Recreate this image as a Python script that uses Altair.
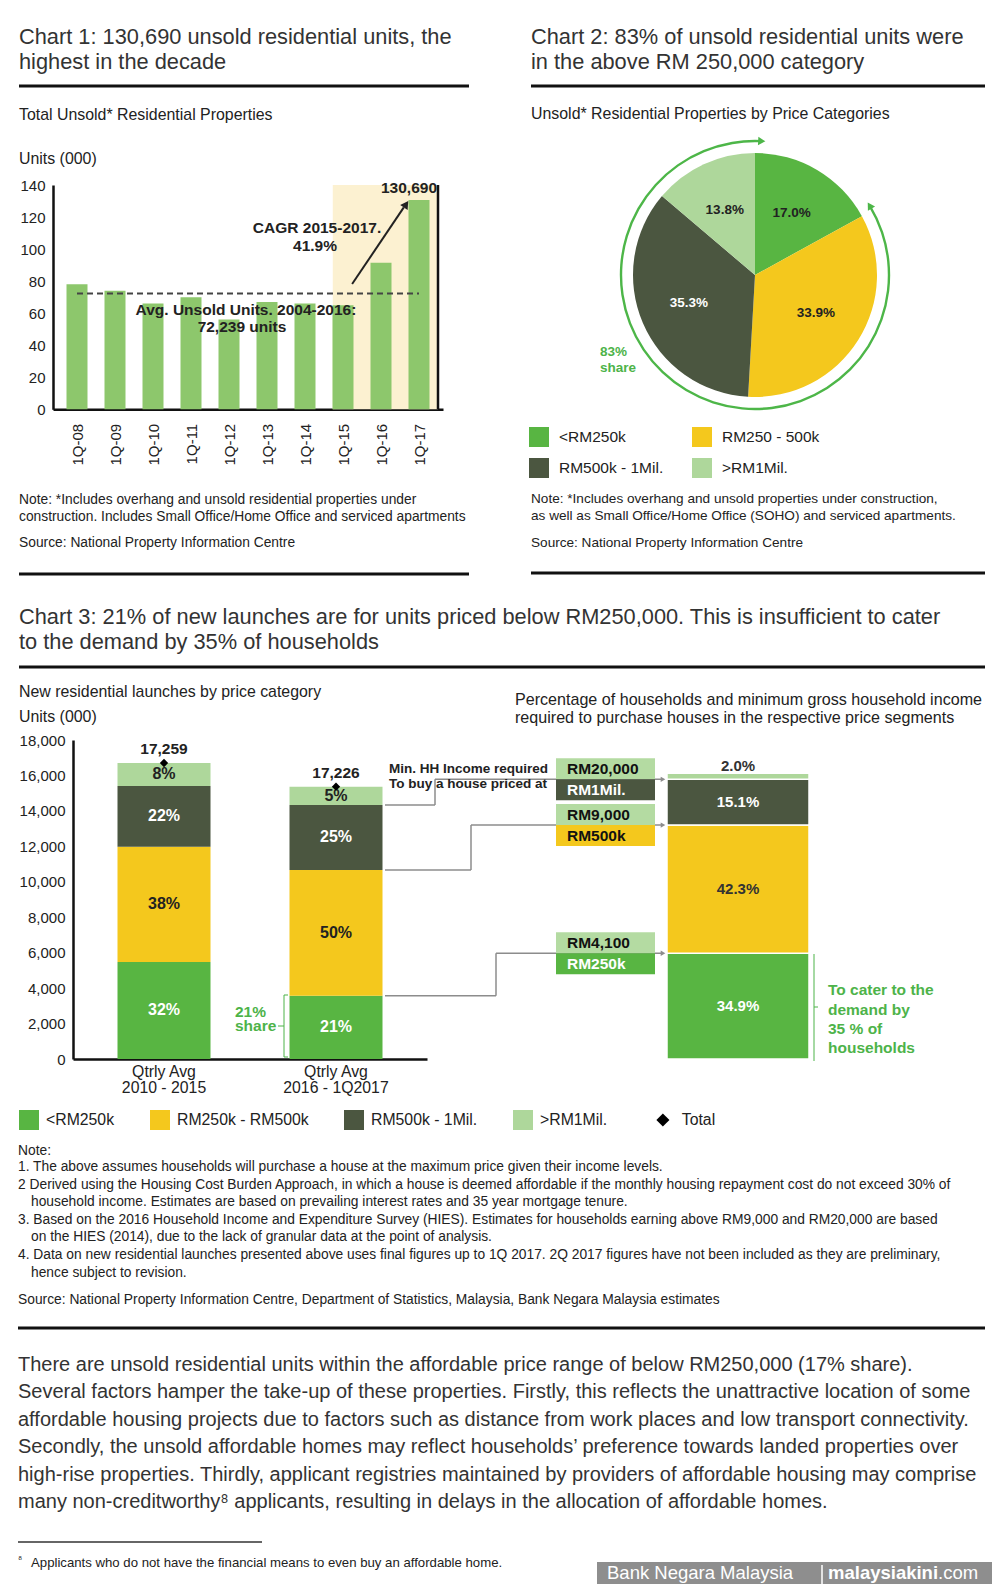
import math
import altair as alt
import pandas as pd

W, H = 984, 1576
M = 8


def P(v):
    return v - M


FONT = "Liberation Sans, Arial, Helvetica, sans-serif"
TXT = "#222222"
TITLE = "#333333"
GREEN = "#58b542"
YELLOW = "#f4c81d"
DARK = "#4b5640"
LIGHT = "#aed79b"
C1_BAR = "#8dc76c"
SHADE = "#fcf1d1"
RING = "#4db648"
GTXT = "#4db349"
GREY = "#8c8c8c"
BOXL = "#b4dba2"

# ---------------- data ----------------
c1_quarters = ["1Q-08", "1Q-09", "1Q-10", "1Q-11", "1Q-12", "1Q-13", "1Q-14", "1Q-15", "1Q-16", "1Q-17"]
c1_units = [78, 74, 66, 70, 56, 67, 66, 65, 91.5, 130.69]
c1_avg = 72.239
c1_shade_from = "1Q-15"
c1_yticks = [0, 20, 40, 60, 80, 100, 120, 140]

c2_cats = ["<RM250k", "RM250 - 500k", "RM500k - 1Mil.", ">RM1Mil."]
c2_share = [17.0, 33.9, 35.3, 13.8]

c3_cats = ["<RM250k", "RM250k - RM500k", "RM500k - 1Mil.", ">RM1Mil."]
c3_periods = ["Qtrly Avg\n2010 - 2015", "Qtrly Avg\n2016 - 1Q2017"]
c3_units_p1 = [5474, 6506, 3426, 1298]
c3_units_p2 = [3574, 7092, 3668, 1033]
c3_pct_p1 = ["32%", "38%", "22%", "8%"]
c3_pct_p2 = ["21%", "50%", "25%", "5%"]
c3_totals = [17259, 17226]
c3_yticks = list(range(0, 18001, 2000))

hh_share = [34.9, 42.3, 15.1, 2.0]
hh_income = ["RM4,100", "RM9,000", "RM20,000"]
hh_price = ["RM250k", "RM500k", "RM1Mil."]

ONE = pd.DataFrame({"z": [0]})
layers = []


def text(s, x, y, size=13.5, weight="normal", color=TXT, align="left", baseline="middle"):
    layers.append(
        alt.Chart(ONE)
        .mark_text(text=s, fontSize=size, fontWeight=weight, color=color, align=align,
                   baseline=baseline, font=FONT)
        .encode(x=alt.value(P(x)), y=alt.value(P(y)))
    )


def hrule(x1, x2, y, color="#111111", width=3):
    layers.append(
        alt.Chart(ONE).mark_rule(color=color, strokeWidth=width)
        .encode(x=alt.value(P(x1)), x2=alt.value(P(x2)), y=alt.value(P(y)))
    )


def vrule(x, y1, y2, color="#111111", width=1.5):
    layers.append(
        alt.Chart(ONE).mark_rule(color=color, strokeWidth=width)
        .encode(x=alt.value(P(x)), y=alt.value(P(y1)), y2=alt.value(P(y2)))
    )


def box(x1, x2, y1, y2, color):
    layers.append(
        alt.Chart(ONE).mark_rect(color=color)
        .encode(x=alt.value(P(x1)), x2=alt.value(P(x2)), y=alt.value(P(y1)), y2=alt.value(P(y2)))
    )


# ---------------- chart 1 ----------------
C1_LEFT, C1_RIGHT, C1_BOT, C1_TOP = 53, 443, 409.3, 185
STEP1 = (C1_RIGHT - C1_LEFT) / len(c1_quarters)
BAR1_PX = 21
n1 = len(c1_quarters)
x1s = alt.Scale(domain=[-0.5, n1 - 0.5], range=[P(C1_LEFT), P(C1_RIGHT)], nice=False, zero=False)
y1s = alt.Scale(domain=[0, 140], range=[P(C1_BOT), P(C1_TOP)], nice=False)
label_expr = "[" + ",".join(f"'{q}'" for q in c1_quarters) + "][datum.value]"
x1ax = alt.Axis(orient="bottom", offset=P(C1_BOT) - H, values=list(range(n1)), labelExpr=label_expr,
                labelAngle=270, ticks=False, grid=False, domainColor="#111111", domainWidth=2.5,
                labelFontSize=15, labelColor=TXT, labelFont=FONT, labelPadding=14, title=None)
y1ax = alt.Axis(orient="left", offset=-P(C1_LEFT), values=c1_yticks, ticks=False, grid=False,
                domainColor="#111111", domainWidth=2.5, labelFontSize=15, labelColor=TXT,
                labelFont=FONT, labelPadding=8, title=None)
X1 = dict(scale=x1s, axis=x1ax)
Y1 = dict(scale=y1s, axis=y1ax)

df1 = pd.DataFrame({"i": range(n1), "q": c1_quarters, "v": c1_units})
shade_start = c1_quarters.index(c1_shade_from) - BAR1_PX / STEP1 / 2
g1 = alt.layer(
    alt.Chart(ONE).mark_rect(color=SHADE).encode(
        x=alt.XDatum(shade_start, type="quantitative", **X1), x2=alt.X2Datum(n1 - 0.5),
        y=alt.YDatum(0, type="quantitative", **Y1), y2=alt.Y2Datum(140)),
    alt.Chart(df1).mark_bar(width=BAR1_PX, color=C1_BAR).encode(
        x=alt.X("i:Q", **X1), y=alt.Y("v:Q", **Y1)),
    alt.Chart(ONE).mark_rule(color="#111111", strokeWidth=2.5).encode(
        x=alt.XDatum(n1 - 0.5, type="quantitative", **X1),
        y=alt.YDatum(0, type="quantitative", **Y1), y2=alt.Y2Datum(140)),
    alt.Chart(ONE).mark_rule(color="#444444", strokeWidth=2, strokeDash=[6, 4]).encode(
        x=alt.XDatum(0, type="quantitative", **X1), x2=alt.X2Datum(n1 - 1),
        y=alt.YDatum(c1_avg, type="quantitative", **Y1)),
    alt.Chart(ONE).mark_rule(color="#222222", strokeWidth=2).encode(
        x=alt.XDatum(7.24, type="quantitative", **X1), x2=alt.X2Datum(8.6),
        y=alt.YDatum(78.2, type="quantitative", **Y1), y2=alt.Y2Datum(126)),
    alt.Chart(ONE).mark_point(shape="triangle-up", filled=True, size=80, angle=34, color="#222222",
                              opacity=1).encode(
        x=alt.XDatum(8.66, type="quantitative", **X1),
        y=alt.YDatum(128, type="quantitative", **Y1)),
)
layers.append(g1)

# ---------------- chart 2 (pie) ----------------
PCX, PCY, PR = 755, 275, 122
df2 = pd.DataFrame({"cat": c2_cats, "share": c2_share, "o": range(len(c2_cats)),
                    "lab": [f"{v:.1f}%" for v in c2_share]})
color2 = alt.Scale(domain=c2_cats, range=[GREEN, YELLOW, DARK, LIGHT])
leg2 = alt.Legend(orient="none", legendX=P(529), legendY=P(427), direction="horizontal", columns=2,
                  columnPadding=28, rowPadding=11, symbolType="square", symbolSize=400,
                  symbolStrokeWidth=0, labelFontSize=15.5, labelFont=FONT, labelColor=TXT,
                  labelOffset=10, title=None, padding=0)
g2 = alt.layer(
    alt.Chart(df2).mark_arc(radius=PR).encode(
        theta=alt.Theta("share:Q", stack=True),
        color=alt.Color("cat:N", scale=color2, legend=leg2),
        order=alt.Order("o:Q"),
        x=alt.value(P(PCX)), y=alt.value(P(PCY))),
    alt.Chart(df2).mark_text(radius=72, fontSize=13.5, fontWeight="bold", font=FONT).encode(
        theta=alt.Theta("share:Q", stack=True),
        order=alt.Order("o:Q"),
        text=alt.Text("lab:N"),
        color=alt.when(alt.datum.cat == c2_cats[2]).then(alt.value("white")).otherwise(alt.value(TXT)),
        x=alt.value(P(PCX)), y=alt.value(P(PCY))),
)
layers.append(g2)

# ring with arrows (83% share)
RR = 134
t_start, t_end = 58.8, 362.9
layers.append(
    alt.Chart(ONE).mark_arc(color=RING).encode(
        theta=alt.value(math.radians(t_start)), theta2=alt.value(math.radians(t_end)),
        radius=alt.value(RR + 1.2), radius2=alt.value(RR - 1.2),
        x=alt.value(P(PCX)), y=alt.value(P(PCY)))
)
for t, ang in [(t_end, t_end - 360 + 90), (t_start, t_start - 90 + 360)]:
    ax = PCX + RR * math.sin(math.radians(t))
    ay = PCY - RR * math.cos(math.radians(t))
    layers.append(
        alt.Chart(ONE).mark_point(shape="triangle-up", filled=True, size=70, angle=ang, color=RING,
                                  opacity=1).encode(x=alt.value(P(ax)), y=alt.value(P(ay)))
    )

# ---------------- chart 3 ----------------
C3_LEFT, C3_RIGHT, C3_BOT, C3_TOP = 73, 427, 1059, 740
Y3_MAX = 18000
U_PER_PX = Y3_MAX / (C3_BOT - C3_TOP)
BAR3_PX = 93
HH_SCALE = 0.95  # right-hand bar drawn at 95% of the axis height for 100%
PCT_U = Y3_MAX * HH_SCALE / 100
BOX_U = 21 * U_PER_PX

x3s = alt.Scale(domain=[0.5, 2.5], range=[P(C3_LEFT), P(C3_RIGHT)], nice=False, zero=False)
y3s = alt.Scale(domain=[0, Y3_MAX], range=[P(C3_BOT), P(C3_TOP)], nice=False)
x3ax = alt.Axis(orient="bottom", offset=P(C3_BOT) - H, labels=False, ticks=False, grid=False,
                domainColor="#111111", domainWidth=2.5, title=None)
y3ax = alt.Axis(orient="left", offset=-P(C3_LEFT), values=c3_yticks,
                labelExpr="format(datum.value, ',')", ticks=False, grid=False,
                domainColor="#111111", domainWidth=2.5, labelFontSize=15, labelColor=TXT,
                labelFont=FONT, labelPadding=8, title=None)
X3 = dict(scale=x3s, axis=x3ax)
Y3 = dict(scale=y3s, axis=y3ax)
color3 = alt.Scale(domain=c3_cats, range=[GREEN, YELLOW, DARK, LIGHT])
leg3 = alt.Legend(orient="none", legendX=P(19), legendY=P(1110), direction="horizontal", columns=4,
                  columnPadding=35, symbolType="square", symbolSize=400, symbolStrokeWidth=0,
                  labelFontSize=15.8, labelFont=FONT, labelColor=TXT, labelOffset=7, title=None,
                  padding=0)
C3 = dict(scale=color3, legend=leg3)

rows = []
for pos, units, pcts in [(1, c3_units_p1, c3_pct_p1), (2, c3_units_p2, c3_pct_p2)]:
    acc = 0
    for cat, u, p in zip(c3_cats, units, pcts):
        rows.append({"pos": pos, "cat": cat, "y0": acc, "y1": acc + u, "mid": acc + u / 2, "lab": p})
        acc += u
df3 = pd.DataFrame(rows)
df3t = pd.DataFrame({"pos": [1, 2], "tot": [sum(c3_units_p1), sum(c3_units_p2)],
                     "lab": [f"{v:,}" for v in c3_totals], "k": ["Total", "Total"]})
df3x = pd.DataFrame({"pos": [1, 2], "lab": c3_periods})

hrows = []
acc = 0
for cat, v in zip(c3_cats, hh_share):
    hrows.append({"cat": cat, "v": v, "y0": acc * PCT_U, "y1": (acc + v) * PCT_U,
                  "mid": (acc + v / 2) * PCT_U, "lab": f"{v:.1f}%"})
    acc += v
dfh = pd.DataFrame(hrows)

white_cats = (alt.datum.cat == c3_cats[0]) | (alt.datum.cat == c3_cats[2])
leg_shape = alt.Legend(orient="none", legendX=P(655), legendY=P(1112), symbolSize=170,
                       symbolFillColor="black", symbolStrokeColor="black", labelFontSize=15.8,
                       labelFont=FONT, labelColor=TXT, labelOffset=11, title=None, padding=0)

g3_layers = []
# connectors
bar2_cum = [sum(c3_units_p2[:k + 1]) for k in range(3)]
hh_cum = [sum(hh_share[:k + 1]) * PCT_U for k in range(3)]
conn_x = [496, 471, 435]
BAR2_RIGHT = C3_LEFT + (2 - 0.5) * (C3_RIGHT - C3_LEFT) / 2 + BAR3_PX / 2
RB_L, RB_R = 667, 809
for yl, yr, cx in zip(bar2_cum, hh_cum, conn_x):
    dfc = pd.DataFrame({"yl": [yl], "yr": [yr]})
    g3_layers += [
        alt.Chart(dfc).mark_rule(color=GREY, strokeWidth=1.5).encode(
            x=alt.value(P(BAR2_RIGHT)), x2=alt.value(P(cx)), y=alt.Y("yl:Q", **Y3)),
        alt.Chart(dfc).mark_rule(color=GREY, strokeWidth=1.5).encode(
            x=alt.value(P(cx)), y=alt.Y("yl:Q", **Y3), y2=alt.Y2("yr:Q")),
        alt.Chart(dfc).mark_rule(color=GREY, strokeWidth=1.5).encode(
            x=alt.value(P(cx)), x2=alt.value(P(RB_L - 5)), y=alt.Y("yr:Q", **Y3)),
        alt.Chart(dfc).mark_point(shape="triangle-right", filled=True, size=28, color=GREY,
                                  opacity=1).encode(x=alt.value(P(RB_L - 4)), y=alt.Y("yr:Q", **Y3)),
    ]

g3_layers += [
    alt.Chart(df3).mark_bar(width=BAR3_PX).encode(
        x=alt.X("pos:Q", **X3), y=alt.Y("y0:Q", **Y3), y2=alt.Y2("y1:Q"),
        color=alt.Color("cat:N", **C3)),
    alt.Chart(df3).mark_text(fontSize=16, fontWeight="bold", font=FONT).encode(
        x=alt.X("pos:Q", **X3), y=alt.Y("mid:Q", **Y3), text="lab:N",
        color=alt.when(white_cats).then(alt.value("white")).otherwise(alt.value(TXT))),
    alt.Chart(df3t).mark_point(filled=True, size=70, color="black", opacity=1).encode(
        x=alt.X("pos:Q", **X3), y=alt.Y("tot:Q", **Y3),
        shape=alt.Shape("k:N", scale=alt.Scale(domain=["Total"], range=["diamond"]), legend=leg_shape)),
    alt.Chart(df3t).mark_text(fontSize=15.5, fontWeight="bold", font=FONT, dy=-14, color=TXT).encode(
        x=alt.X("pos:Q", **X3), y=alt.Y("tot:Q", **Y3), text="lab:N"),
    alt.Chart(df3x).mark_text(fontSize=15.8, font=FONT, lineBreak="\n", baseline="top", lineHeight=16,
                              color=TXT).encode(
        x=alt.X("pos:Q", **X3), y=alt.value(P(1065)), text="lab:N"),
    # right-hand bar: share of households
    alt.Chart(dfh).mark_rect(stroke="white", strokeWidth=1.5).encode(
        x=alt.value(P(RB_L)), x2=alt.value(P(RB_R)), y=alt.Y("y0:Q", **Y3), y2=alt.Y2("y1:Q"),
        color=alt.Color("cat:N", **C3)),
    alt.Chart(dfh).transform_filter(alt.datum.v >= 5).mark_text(fontSize=15, fontWeight="bold",
                                                                 font=FONT).encode(
        x=alt.value(P((RB_L + RB_R) / 2)), y=alt.Y("mid:Q", **Y3), text="lab:N",
        color=alt.when(white_cats).then(alt.value("white")).otherwise(alt.value("#333333"))),
    alt.Chart(dfh).transform_filter(alt.datum.v < 5).mark_text(fontSize=15, fontWeight="bold",
                                                                font=FONT, baseline="bottom", dy=1,
                                                                color="#333333").encode(
        x=alt.value(P((RB_L + RB_R) / 2)), y=alt.Y("y1:Q", **Y3), text="lab:N"),
]
# income / price boxes
BX_L, BX_R = 556, 655
for k in range(3):
    b = hh_cum[k]
    dfb = pd.DataFrame({"a": [b], "top": [b + BOX_U], "bot": [b - BOX_U], "mt": [b + BOX_U / 2],
                        "mb": [b - BOX_U / 2], "inc": [hh_income[k]], "pr": [hh_price[k]]})
    price_col = [GREEN, YELLOW, DARK][k]
    price_txt = "#111111" if k == 1 else "white"
    g3_layers += [
        alt.Chart(dfb).mark_rect(color=BOXL).encode(
            x=alt.value(P(BX_L)), x2=alt.value(P(BX_R)), y=alt.Y("a:Q", **Y3), y2=alt.Y2("top:Q")),
        alt.Chart(dfb).mark_rect(color=price_col).encode(
            x=alt.value(P(BX_L)), x2=alt.value(P(BX_R)), y=alt.Y("bot:Q", **Y3), y2=alt.Y2("a:Q")),
        alt.Chart(dfb).mark_text(fontSize=15.5, fontWeight="bold", font=FONT, align="left",
                                 color="#111111").encode(
            x=alt.value(P(567)), y=alt.Y("mt:Q", **Y3), text="inc:N"),
        alt.Chart(dfb).mark_text(fontSize=15.5, fontWeight="bold", font=FONT, align="left",
                                 color=price_txt).encode(
            x=alt.value(P(567)), y=alt.Y("mb:Q", **Y3), text="pr:N"),
    ]
layers.append(alt.layer(*g3_layers))

# ---------------- texts & decorations ----------------
TS = 21.8
text("Chart 1: 130,690 unsold residential units, the", 19, 37, TS, color=TITLE)
text("highest in the decade", 19, 62, TS, color=TITLE)
text("Chart 2: 83% of unsold residential units were", 531, 37, TS, color=TITLE)
text("in the above RM 250,000 category", 531, 62, TS, color=TITLE)
hrule(19, 469, 86)
hrule(531, 985, 86)
text("Total Unsold* Residential Properties", 19, 115, 15.9)
text("Unsold* Residential Properties by Price Categories", 531, 114, 15.9)
text("Units (000)", 19, 159, 15.9)

# chart 1 annotations
text("130,690", 437, 188, 15.5, "bold", align="right")
text("CAGR 2015-2017.", 317, 228, 15.5, "bold", align="center")
text("41.9%", 315, 246, 15.5, "bold", align="center")
text("Avg. Unsold Units. 2004-2016:", 246, 310, 15.5, "bold", align="center")
text("72,239 units", 242, 327, 15.5, "bold", align="center")

# chart 1 / 2 notes
NS = 13.8
text("Note: *Includes overhang and unsold residential properties under", 19, 500, NS)
text("construction. Includes Small Office/Home Office and serviced apartments", 19, 517, NS)
text("Source: National Property Information Centre", 19, 543, NS)
hrule(19, 469, 574)
text("83%", 600, 352, 13.5, "bold", color=GTXT)
text("share", 600, 368, 13.5, "bold", color=GTXT)
text("Note: *Includes overhang and unsold properties under construction,", 531, 499, 13.6)
text("as well as Small Office/Home Office (SOHO) and serviced apartments.", 531, 516, 13.6)
text("Source: National Property Information Centre", 531, 543, 13.6)
hrule(531, 985, 573)

# chart 3 header
text("Chart 3: 21% of new launches are for units priced below RM250,000. This is insufficient to cater",
     19, 617, TS, color=TITLE)
text("to the demand by 35% of households", 19, 642, TS, color=TITLE)
hrule(19, 985, 667)
text("New residential launches by price category", 19, 692, 15.9)
text("Units (000)", 19, 717, 15.9)
text("Percentage of households and minimum gross household income", 515, 700, 16.1)
text("required to purchase houses in the respective price segments", 515, 718, 16.1)
text("Min. HH Income required", 389, 769, 13.5, "bold")
text("To buy a house priced at", 389, 784, 13.5, "bold")

# 21% share bracket
text("21%", 235, 1012, 15.5, "bold", color=GTXT)
text("share", 235, 1026, 15.5, "bold", color=GTXT)
vrule(284, 995, 1057, GTXT, 1)
hrule(284, 288, 995, GTXT, 1)
hrule(284, 288, 1057, GTXT, 1)
hrule(278, 284, 1026, GTXT, 1)

# to cater bracket
vrule(814, 954, 1061, GTXT, 1)
hrule(814, 818, 1007, GTXT, 1)
for s, yy in [("To cater to the", 990), ("demand by", 1010), ("35 % of", 1029), ("households", 1048)]:
    text(s, 828, yy, 15.5, "bold", color=GTXT)

# chart 3 notes
notes = [
    ("Note:", 18, 1151),
    ("1. The above assumes households will purchase a house at the maximum price given their income levels.", 18, 1167),
    ("2  Derived using the Housing Cost Burden Approach, in which a house is deemed affordable if the monthly housing repayment cost do not exceed 30% of", 18, 1185),
    ("household income. Estimates are based on prevailing interest rates and 35 year mortgage tenure.", 31, 1202),
    ("3. Based on the 2016 Household Income and Expenditure Survey (HIES). Estimates for households earning above RM9,000 and RM20,000 are based", 18, 1220),
    ("on the HIES (2014), due to the lack of granular data at the point of analysis.", 31, 1237),
    ("4. Data on new residential launches presented above uses final figures up to 1Q 2017. 2Q 2017 figures have not been included as they are preliminary,", 18, 1255),
    ("hence subject to revision.", 31, 1273),
    ("Source: National Property Information Centre, Department of Statistics, Malaysia, Bank Negara Malaysia estimates", 18, 1300),
]
for s, xx, yy in notes:
    text(s, xx, yy, 13.8)
hrule(18, 985, 1328)

para = [
    "There are unsold residential units within the affordable price range of below RM250,000 (17% share).",
    "Several factors hamper the take-up of these properties. Firstly, this reflects the unattractive location of some",
    "affordable housing projects due to factors such as distance from work places and low transport connectivity.",
    "Secondly, the unsold affordable homes may reflect households\u2019 preference towards landed properties over",
    "high-rise properties. Thirdly, applicant registries maintained by providers of affordable housing may comprise",
    "many non-creditworthy\u2078 applicants, resulting in delays in the allocation of affordable homes.",
]
for k, s in enumerate(para):
    text(s, 18, 1365 + k * 27.4, 20, color=TITLE)

hrule(18, 262, 1542, "#333333", 1.5)
text("\u2078", 18, 1559, 10)
text("Applicants who do not have the financial means to even buy an affordable home.", 31, 1563, 13.2)

# banner
box(597, 1000, 1562, 1600, "#8e8e8e")
text("Bank Negara Malaysia", 607, 1573, 18.5, color="white")
vrule(822, 1565, 1584, "white", 1.5)
text("malaysiakini", 828, 1573, 18.5, "bold", color="white")
text(".com", 938, 1573, 18.5, color="white")

chart = (
    alt.layer(*layers)
    .resolve_scale(x="independent", y="independent", color="independent")
    .resolve_axis(x="independent", y="independent")
    .resolve_legend(color="independent")
    .properties(width=W, height=H, autosize=alt.AutoSizeParams(type="none"), padding=0,
                background="white")
    .configure_view(strokeWidth=0)
)
chart.save("out.html", embed_options={"renderer": "svg", "actions": False})
